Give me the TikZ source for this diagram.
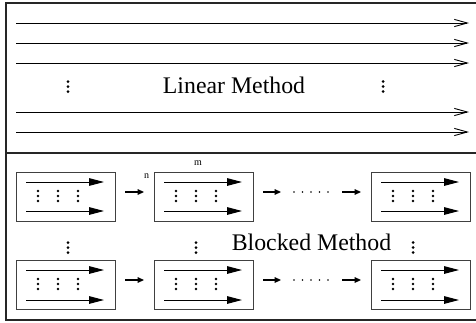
\documentclass[tikz,border=0pt]{standalone}
\usepackage{fontspec}
\setmainfont{Liberation Serif}
\usetikzlibrary{arrows.meta}
\begin{document}
\begin{tikzpicture}[x=0.5pt,y=-0.5pt,
  frame/.style={line width=0.8pt, draw=black!85},
  linarrow/.style={line width=0.5pt, -{Straight Barb[length=6.5pt,width=3.6pt,line width=0.45pt]}},
  blkbox/.style={draw=black!75, line width=0.6pt, minimum width=49.5pt, minimum height=24.5pt, inner sep=0pt},
  inarrow/.style={line width=0.5pt, -{Triangle[length=7.5pt,width=3.8pt]}},
  smallarrow/.style={line width=0.6pt, -{Triangle[length=3.2pt,width=2.8pt]}},
  dotc/.style={fill=black, draw=none},
  lbl/.style={font=\fontsize{11.9}{14}\selectfont, inner sep=0pt, anchor=base},
  tiny/.style={font=\fontsize{5}{6}\selectfont, inner sep=0pt}
]
\useasboundingbox (0,0) rectangle (476,322);
% outer frame
\draw[frame] (482,3) -- (6,3) -- (6,320) -- (482,320);
\draw[line width=1pt, draw=black!85] (6,152.5) -- (482,152.5);

% linear method arrows
\foreach \i/\y in {1/23,2/43,3/63,4/112,5/132}{
  \coordinate (ls\i) at (16,\y);
  \coordinate (le\i) at (469,\y);
  \draw[linarrow] (ls\i) -- (le\i);
}
\newcommand{\vdts}[2]{%
  \foreach \d in {-5,0,5}{\fill[dotc] (#1,#2+\d) circle (0.75pt);}}
\vdts{68}{86.5}
\vdts{383}{86.5}
\node[lbl] (lin) at (234,93) {Linear Method};

% blocked method boxes
\foreach \r/\ya/\yb/\yc in {1/172/182/211, 2/260/270/300}{
  \foreach \c/\xa in {1/16, 2/154, 3/371}{
    \node[blkbox, anchor=north west] (b\r\c) at (\xa,\ya) {};
    \coordinate (a\r\c s1) at (\xa+10,\yb);
    \coordinate (a\r\c e1) at (\xa+88,\yb);
    \coordinate (a\r\c s2) at (\xa+10,\yc);
    \coordinate (a\r\c e2) at (\xa+88,\yc);
    \draw[inarrow] (a\r\c s1) -- (a\r\c e1);
    \draw[inarrow] (a\r\c s2) -- (a\r\c e2);
    \foreach \dx in {22,42,62}{
      \foreach \d in {-5,0,5}{\fill[dotc] (\xa+\dx,\yb+14+\d) circle (0.7pt);}
    }
  }
}
% connectors between boxes
\foreach \r/\y in {1/192, 2/280}{
  \coordinate (c\r a) at (125,\y);
  \coordinate (c\r b) at (144,\y);
  \draw[smallarrow] (c\r a) -- (c\r b);
  \coordinate (c\r c) at (263,\y);
  \coordinate (c\r d) at (281,\y);
  \draw[smallarrow] (c\r c) -- (c\r d);
  \coordinate (c\r e) at (342,\y);
  \coordinate (c\r f) at (361,\y);
  \draw[smallarrow] (c\r e) -- (c\r f);
  \foreach \k in {0,...,4}{\fill[dotc] (294+8.5*\k,\y) circle (0.45pt);}
}
\node[tiny] (n) at (146.5,176) {n};
\node[tiny] (m) at (198,163) {m};

% vertical dots between rows
\vdts{68}{247.5}
\vdts{196}{247.5}
\vdts{413}{247.5}
\node[lbl] (blk) at (311.5,250) {Blocked Method};
\end{tikzpicture}
\end{document}
